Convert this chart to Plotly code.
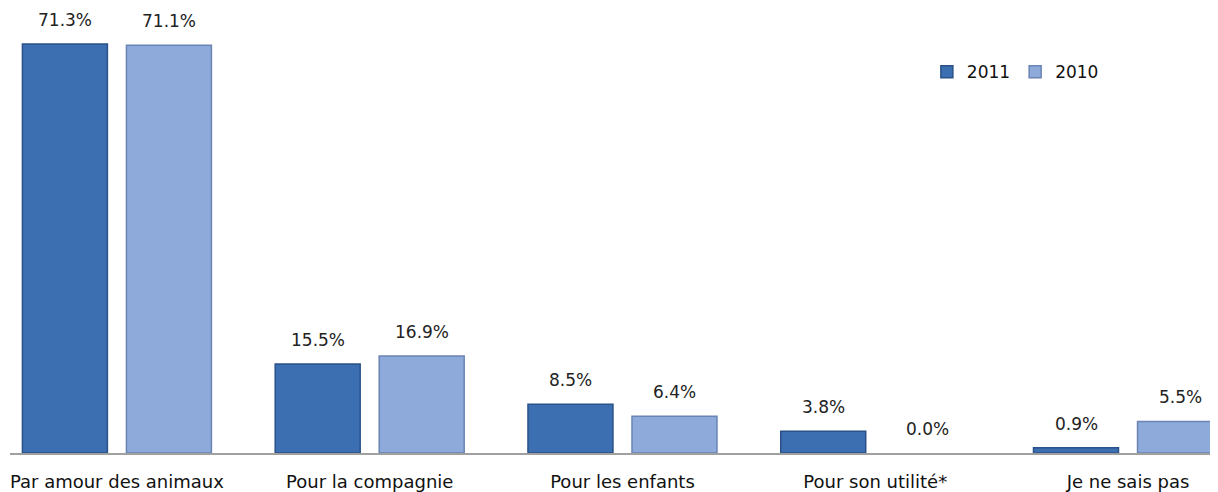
import plotly.graph_objects as go

categories = ["Par amour des animaux", "Pour la compagnie", "Pour les enfants",
              "Pour son utilité*", "Je ne sais pas"]
values_2011 = [71.3, 15.5, 8.5, 3.8, 0.9]
values_2010 = [71.1, 16.9, 6.4, 0.0, 5.5]

FONT = "DejaVu Sans"

fig = go.Figure()
fig.add_trace(go.Bar(
    x=categories, y=values_2011, name="2011",
    marker=dict(color="#3b6fb2",
                line=dict(color="#2a5288", width=[1.5 if v > 0 else 0 for v in values_2011])),
))
fig.add_trace(go.Bar(
    x=categories, y=values_2010, name="2010",
    marker=dict(color="#8eaadb",
                line=dict(color="#6a84b4", width=[1.5 if v > 0 else 0 for v in values_2010])),
))

# value labels above each bar
for cat, v in zip(categories, values_2011):
    fig.add_annotation(x=cat, y=v, text=f"{v:.1f}%", xref="x", yref="y",
                       showarrow=False, yanchor="bottom", xshift=-52, yshift=12,
                       font=dict(family=FONT, size=17, color="#222"))
for cat, v in zip(categories, values_2010):
    fig.add_annotation(x=cat, y=v, text=f"{v:.1f}%", xref="x", yref="y",
                       showarrow=False, yanchor="bottom", xshift=52, yshift=12,
                       font=dict(family=FONT, size=17, color="#222"))

# page body keeps an 8px margin, so the figure is a bit smaller than the window
fig.update_layout(
    width=1210, height=484,
    margin=dict(l=2, r=0, t=0, b=39, autoexpand=False),
    barmode="group", bargap=0.177, bargroupgap=0.183,
    paper_bgcolor="white", plot_bgcolor="white",
    font=dict(family=FONT, size=16, color="#111"),
    showlegend=True,
    legend=dict(orientation="h", x=0.759, y=0.856, xanchor="left", yanchor="middle",
                font=dict(size=17), itemwidth=30, traceorder="normal",
                bgcolor="rgba(0,0,0,0)"),
    xaxis=dict(range=[-0.423, 4.356], showline=True, linecolor="#a0a0a0", linewidth=2,
               showgrid=False, ticks="", ticklabelstandoff=11, automargin=False,
               tickfont=dict(family=FONT, size=18, color="#111")),
    yaxis=dict(range=[0, 77.58], visible=False, showgrid=False, zeroline=False,
               automargin=False),
)

fig.write_html("out.html")
